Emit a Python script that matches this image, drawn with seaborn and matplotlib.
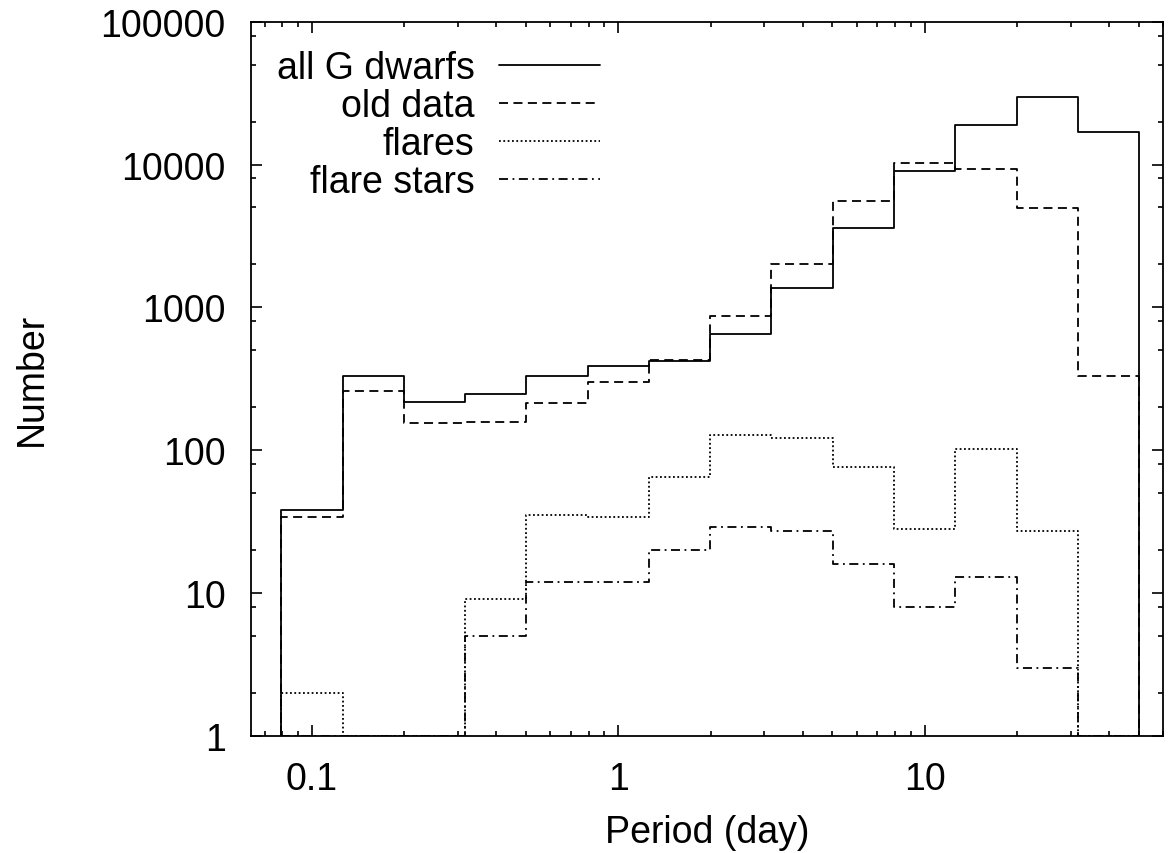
import matplotlib
matplotlib.use("Agg")
import matplotlib.pyplot as plt
import matplotlib.ticker as mticker
import numpy as np
import pandas as pd
import seaborn as sns

# bin edges (log10 of period in days), 0.2 dex wide
log_edges = [-1.1, -0.9, -0.7, -0.5, -0.3, -0.1, 0.1, 0.3, 0.5, 0.7, 0.9, 1.1, 1.3, 1.5, 1.7]

# counts per bin (1 = empty bin, drawn on the bottom axis)
all_g_dwarfs = [38, 329, 218, 247, 332, 390, 423, 650, 1365, 3580, 9020, 19000, 29700, 16900]
old_data = [34, 258, 155, 158, 214, 298, 428, 873, 2010, 5510, 10190, 9370, 4940, 329]
flares = [2, 1, 1, 9, 35, 34, 65, 128, 121, 76, 28, 102, 27, 1]
flare_stars = [1, 1, 1, 5, 12, 12, 20, 29, 27, 16, 8, 13, 3, 1]

series_names = ["all G dwarfs", "old data", "flares", "flare stars"]
series_values = [all_g_dwarfs, old_data, flares, flare_stars]
line_styles = ["-", (0, (5, 3)), (0, (1, 1.4)), (0, (5, 2.5, 1, 2.5))]

edges = 10 ** np.array(log_edges)

# build step outlines (start and end on the bottom of the plot)
rows = []
for name, vals in zip(series_names, series_values):
    xs = [edges[0]] + list(edges[:-1]) + [edges[-1]]
    ys = [1] + list(vals) + [1]
    for x, y in zip(xs, ys):
        rows.append({"series": name, "period": x, "number": y})
df = pd.DataFrame(rows)

sns.set_style("ticks")
plt.rcParams["font.family"] = ["Liberation Sans", "DejaVu Sans"]
plt.rcParams["text.color"] = "black"
plt.rcParams["axes.labelcolor"] = "black"
plt.rcParams["xtick.color"] = "black"
plt.rcParams["ytick.color"] = "black"

fig, ax = plt.subplots(figsize=(11.7, 8.54), dpi=100)
fig.subplots_adjust(left=0.2143, right=0.994, bottom=0.1374, top=0.9734)

for name, ls in zip(series_names, line_styles):
    sns.lineplot(
        data=df[df["series"] == name], x="period", y="number",
        estimator=None, sort=False, drawstyle="steps-post",
        color="black", linestyle=ls, linewidth=1.3, label=name, ax=ax,
    )

ax.set_xscale("log")
ax.set_yscale("log")
ax.set_xlim(10 ** -1.2, 60)
ax.set_ylim(1, 100000)

ax.xaxis.set_major_locator(mticker.FixedLocator([0.1, 1, 10]))
ax.xaxis.set_major_formatter(mticker.FixedFormatter(["0.1", "1", "10"]))
ax.xaxis.set_minor_locator(mticker.LogLocator(base=10, subs=np.arange(2, 10)))
ax.xaxis.set_minor_formatter(mticker.NullFormatter())
ax.yaxis.set_major_locator(mticker.FixedLocator([1, 10, 100, 1000, 10000, 100000]))
ax.yaxis.set_major_formatter(mticker.FixedFormatter(["1", "10", "100", "1000", "10000", "100000"]))
ax.yaxis.set_minor_locator(mticker.LogLocator(base=10, subs=[2, 5, 8]))
ax.yaxis.set_minor_formatter(mticker.NullFormatter())

ax.tick_params(which="both", direction="in", top=True, right=True, width=1.2,
               colors="black")
ax.tick_params(which="major", length=7.7, labelsize=27, pad=18)
ax.tick_params(which="minor", length=3.6)
for sp in ax.spines.values():
    sp.set_linewidth(1.3)
    sp.set_color("black")

ax.set_xlabel("Period (day)", fontsize=27, color="black")
ax.set_ylabel("Number", fontsize=27, color="black")
ax.xaxis.set_label_coords(0.5, -0.11)
ax.yaxis.set_label_coords(-0.22, 0.5)

leg = ax.legend(
    loc="upper left", bbox_to_anchor=(0.012, 0.981), frameon=False, markerfirst=False,
    fontsize=27, handlelength=2.7, handletextpad=0.65, labelspacing=0.05,
    borderaxespad=0.0,
)
for t in leg.get_texts():
    t.set_color("black")

fig.savefig("out.png", dpi=100)
